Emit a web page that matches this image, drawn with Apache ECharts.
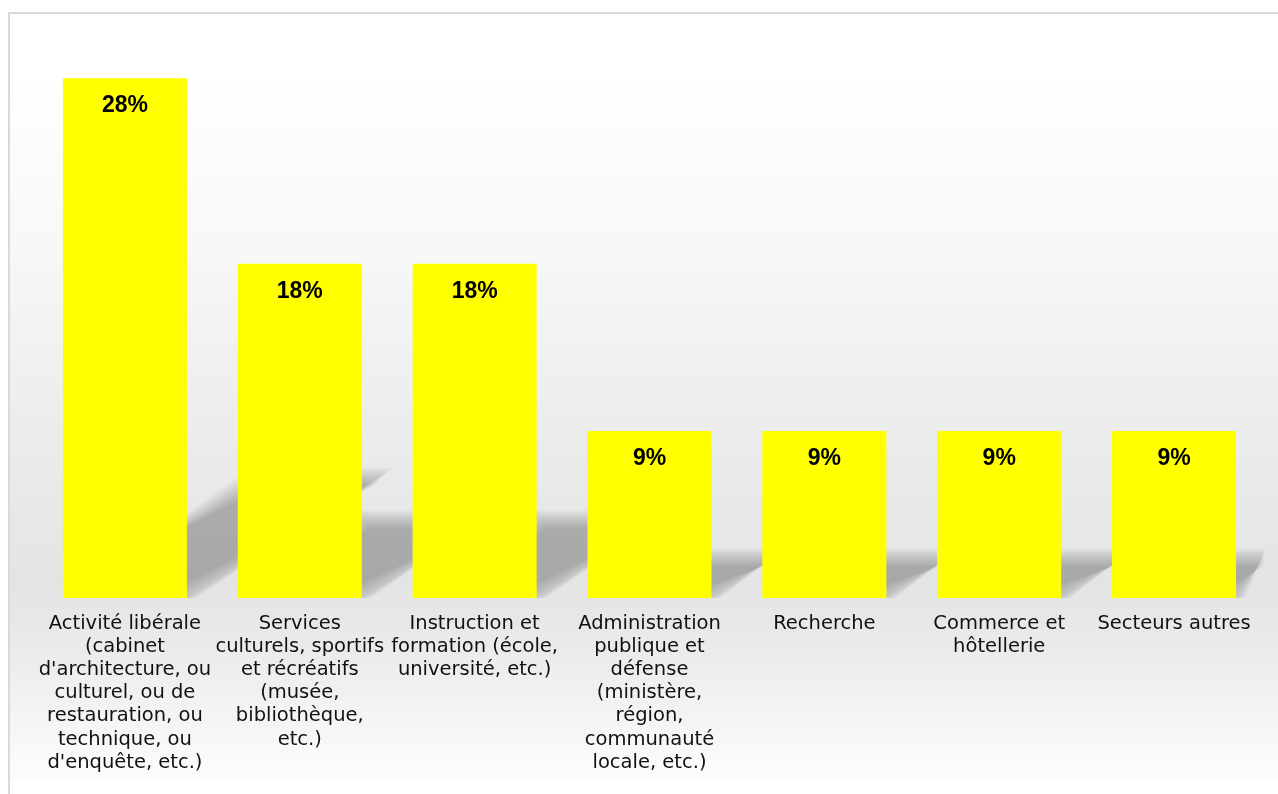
<!DOCTYPE html>
<html>
<head>
<meta charset="utf-8">
<script src="https://cdn.jsdelivr.net/npm/echarts@6/dist/echarts.min.js"></script>
<style>
  html, body { margin: 0; padding: 0; width: 1278px; height: 794px; overflow: hidden; background: #ffffff; }
  #frame { position: absolute; left: 8px; top: 12px; width: 1300px; height: 820px;
           border-left: 2px solid #d9d9d9; border-top: 2px solid #d9d9d9; box-sizing: border-box; }
  #bg { position: absolute; left: 10px; top: 77px; width: 1268px; height: 703px;
        background: linear-gradient(to bottom, #ffffff 0%, #f7f7f7 25%, #ececec 50%, #e4e4e4 72%, #e8e8e8 78%, #f1f1f1 88%, #fdfdfd 100%); }
  #chart { position: absolute; left: 0; top: 0; width: 1278px; height: 794px; }
</style>
</head>
<body>
<div id="bg"></div>
<div id="frame"></div>
<div id="chart"></div>
<script>
// Category tick labels (as displayed, with line breaks)
const categories = [
  "Activité libérale\n(cabinet\nd'architecture, ou\nculturel, ou de\nrestauration, ou\ntechnique, ou\nd'enquête, etc.)",
  "Services\nculturels, sportifs\net récréatifs\n(musée,\nbibliothèque,\netc.)",
  "Instruction et\nformation (école,\nuniversité, etc.)",
  "Administration\npublique et\ndéfense\n(ministère,\nrégion,\ncommunauté\nlocale, etc.)",
  "Recherche",
  "Commerce et\nhôtellerie",
  "Secteurs autres"
];
// Percent values
const values = [28, 18, 18, 9, 9, 9, 9];

const BAR_W = 124;
const chart = echarts.init(document.getElementById('chart'), null, { renderer: 'canvas' });

const option = {
  backgroundColor: 'transparent',
  animation: false,
  grid: { left: 37.5, right: 16.5, top: 41, bottom: 196 },
  xAxis: {
    type: 'category',
    data: categories,
    axisLine: { show: false },
    axisTick: { show: false },
    axisLabel: {
      interval: 0,
      margin: 14,
      color: '#111111',
      fontFamily: 'DejaVu Sans',
      fontSize: 19.5,
      lineHeight: 23.2,
      align: 'center'
    }
  },
  yAxis: {
    type: 'value', min: 0, max: 30, show: false,
    splitLine: { show: false }
  },
  series: [
    {
      type: 'custom',
      z: 1,
      silent: true,
      clip: false,
      data: values.map((v, i) => [i, v]),
      renderItem: function (params, api) {
        const i = api.value(0), v = api.value(1);
        const base = api.coord([i, 0]);
        const top = api.coord([i, v]);
        const h = base[1] - top[1];
        const rise = 0.23 * h;
        const dx = 1.65 * rise;
        const x0 = base[0] - BAR_W / 2, x1 = base[0] + BAR_W / 2;
        const y0 = base[1] - 2;
        const xMax = api.getWidth() - 13;
        const cx = (x) => Math.min(x, xMax);
        const layers = [];
        const N = 12;
        for (let k = 0; k < N; k++) {
          const e = 9 - k * 1.6; // expansion in px (positive = bigger)
          layers.push({
            type: 'polygon',
            shape: { points: [
              [x0 + 4, y0 + Math.min(e, 2)],
              [cx(x1 + e), y0 + Math.min(e, 2)],
              [cx(x1 + dx + e), y0 - rise - e],
              [cx(x0 + dx - e), y0 - rise - e]
            ] },
            style: { fill: 'rgba(0,0,0,0.027)' }
          });
        }
        return { type: 'group', children: layers };
      }
    },
    {
      type: 'bar',
      z: 2,
      data: values,
      barWidth: BAR_W,
      itemStyle: { color: '#ffff00' },
      label: {
        show: true,
        position: 'insideTop',
        distance: 16,
        formatter: '{c}%',
        color: '#000000',
        fontFamily: 'Liberation Sans',
        fontWeight: 'bold',
        fontSize: 23
      }
    }
  ]
};
chart.setOption(option);
</script>
</body>
</html>
